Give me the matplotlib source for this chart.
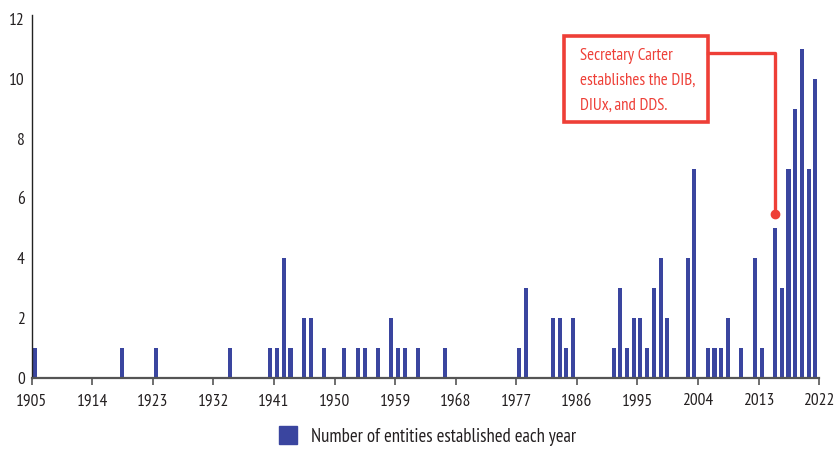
from __future__ import annotations

import matplotlib

matplotlib.use("Agg")
import matplotlib.pyplot as plt
from matplotlib.lines import Line2D
from matplotlib.patches import Rectangle

plt.rcParams["font.family"] = ["PT Sans Narrow", "Open Sans Condensed", "Liberation Sans Narrow", "DejaVu Sans"]

BAR_COLOR = "#3a459f"
NOTE_COLOR = "#ee3f37"
AXIS_COLOR = "#555555"
TEXT_COLOR = "#231f20"

YEARS = [
    1905, 1918, 1923, 1934, 1940, 1941, 1942, 1943, 1945, 1946, 1948,
    1951, 1953, 1954, 1956, 1958, 1959, 1960, 1962, 1966, 1977, 1978,
    1982, 1983, 1984, 1985, 1991, 1992, 1993, 1994, 1995, 1996, 1997,
    1998, 1999, 2002, 2003, 2005, 2006, 2007, 2008, 2010, 2012, 2013,
    2015, 2016, 2017, 2018, 2019, 2020, 2021,
]
COUNTS = [
    1, 1, 1, 1, 1, 1, 4, 1, 2, 2, 1,
    1, 1, 1, 1, 2, 1, 1, 1, 1, 1, 3,
    2, 2, 1, 2, 1, 3, 1, 2, 2, 1, 3,
    4, 2, 4, 7, 1, 1, 1, 2, 1, 4, 1,
    5, 3, 7, 9, 11, 7, 10,
]
X_TICKS = [1905, 1914, 1923, 1932, 1941, 1950, 1959, 1968, 1977, 1986, 1995, 2004, 2013, 2022]
Y_TICKS = [0, 2, 4, 6, 8, 10, 12]

LEGEND_LABEL = "Number of entities established each year"
NOTE_TEXT = "Secretary Carter\nestablishes the DIB,\nDIUx, and DDS."


def build_figure() -> plt.Figure:
    fig = plt.figure(figsize=(8.35, 4.5), dpi=100)
    ax = fig.add_axes([0.038, 0.16, 0.943, 0.806])

    ax.bar([y + 0.45 for y in YEARS], COUNTS, width=0.6, color=BAR_COLOR, zorder=2)

    ax.set_xlim(1905, 2022)
    ax.set_ylim(0, 12.12)
    ax.set_xticks(X_TICKS)
    ax.set_xticklabels([str(t) for t in X_TICKS])
    ax.set_yticks(Y_TICKS)

    for side in ("top", "right"):
        ax.spines[side].set_visible(False)
    ax.spines["left"].set_color("#222222")
    ax.spines["left"].set_linewidth(1.0)
    ax.spines["bottom"].set_color(AXIS_COLOR)
    ax.spines["bottom"].set_linewidth(1.6)
    ax.spines["bottom"].set_zorder(3)
    ax.tick_params(axis="x", length=5, width=1.2, color=AXIS_COLOR, pad=6,
                   labelsize=12.5, labelcolor=TEXT_COLOR)
    ax.tick_params(axis="y", length=0, pad=5, labelsize=12.5, labelcolor=TEXT_COLOR)

    # callout box + elbow connector
    ax.add_patch(Rectangle((1984.1, 8.54), 21.35, 2.88, fill=False,
                           edgecolor=NOTE_COLOR, linewidth=2.6, clip_on=False, zorder=4))
    ax.text(1986.4, 9.93, NOTE_TEXT, color=NOTE_COLOR, fontsize=12.2,
            ha="left", va="center", linespacing=1.7, clip_on=False, zorder=5)
    ax.plot([2005.45, 2015.5, 2015.5], [10.87, 10.87, 5.47], color=NOTE_COLOR,
            linewidth=2.4, clip_on=False, zorder=4)
    ax.plot([2015.5], [5.47], marker="o", markersize=6, color=NOTE_COLOR,
            clip_on=False, zorder=5)

    handle = Line2D([], [], linestyle="none", marker="s", markersize=13,
                    markerfacecolor=BAR_COLOR, markeredgecolor=BAR_COLOR)
    fig.legend([handle], [LEGEND_LABEL], loc="center", bbox_to_anchor=(0.511, 0.03),
               frameon=False, fontsize=13.5, handletextpad=0.6, handlelength=1.2,
               labelcolor=TEXT_COLOR)
    return fig


def main() -> None:
    fig = build_figure()
    fig.savefig("out.png", dpi=100)
    plt.close(fig)


if __name__ == "__main__":
    main()
